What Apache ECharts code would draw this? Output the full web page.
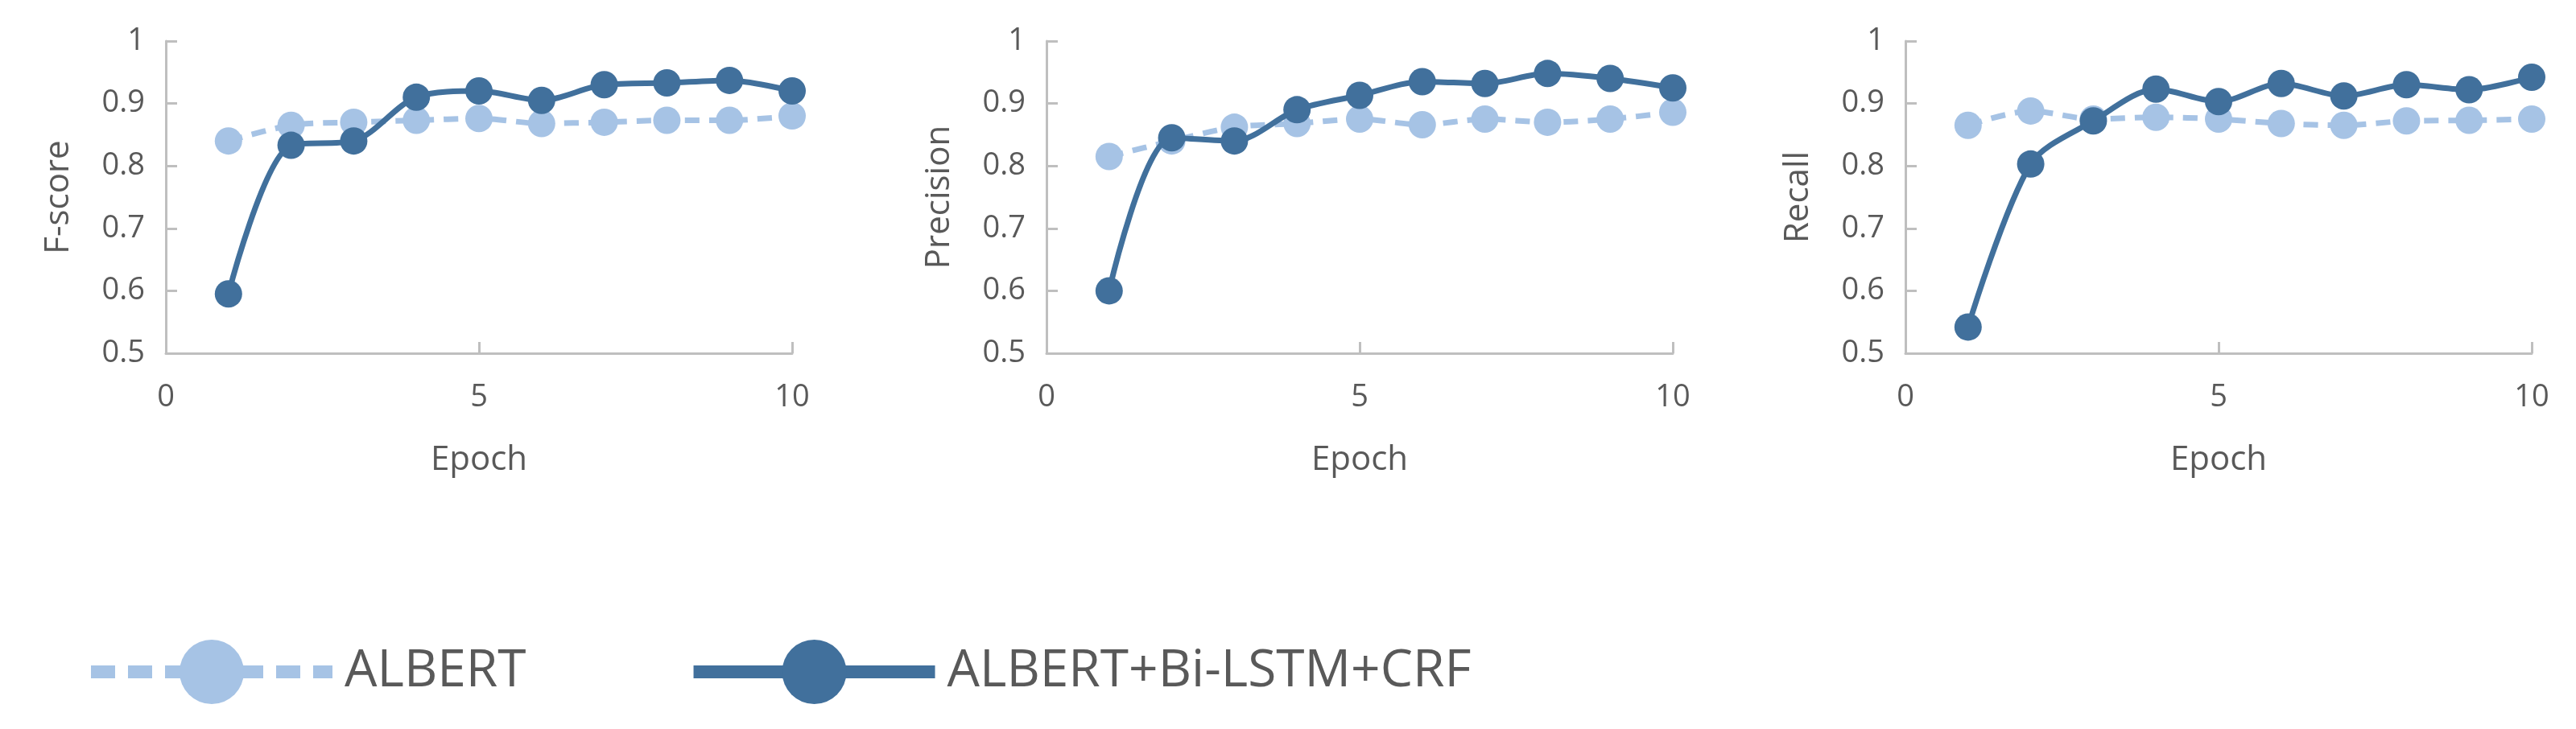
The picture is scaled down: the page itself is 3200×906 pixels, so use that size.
<!DOCTYPE html>
<html>
<head>
<meta charset="utf-8">
<script src="https://cdn.jsdelivr.net/npm/echarts@6/dist/echarts.min.js"></script>
<style>html,body{margin:0;padding:0;background:#fff}#container{width:3200px;height:906px}</style>
</head>
<body>
<div id="container"></div>
<script>
var epochs = [1, 2, 3, 4, 5, 6, 7, 8, 9, 10];
var panelNames = ['F-score', 'Precision', 'Recall'];
var albertF = [0.84, 0.865, 0.87, 0.873, 0.876, 0.868, 0.87, 0.873, 0.873, 0.88];
var crfF = [0.595, 0.833, 0.84, 0.91, 0.92, 0.905, 0.93, 0.933, 0.937, 0.92];
var albertP = [0.815, 0.84, 0.862, 0.868, 0.875, 0.866, 0.875, 0.87, 0.875, 0.886];
var crfP = [0.60, 0.845, 0.84, 0.89, 0.913, 0.935, 0.932, 0.948, 0.94, 0.925];
var albertR = [0.865, 0.888, 0.875, 0.878, 0.875, 0.868, 0.865, 0.872, 0.873, 0.875];
var crfR = [0.542, 0.803, 0.872, 0.923, 0.903, 0.932, 0.912, 0.93, 0.922, 0.942];

var albertSets = [albertF, albertP, albertR];
var crfSets = [crfF, crfP, crfR];
var lefts = [206, 1300, 2367];
var plotW = 778;

var textColor = '#595959';
var axisColor = '#bfbfbf';
var light = '#a6c3e5';
var dark = '#41709c';

function pairs(vals) {
    return epochs.map(function (e, i) { return [e, vals[i]]; });
}

var grids = [], xAxes = [], yAxes = [], series = [];
for (var i = 0; i < 3; i++) {
    grids.push({ left: lefts[i], top: 51, width: plotW, height: 388 });
    xAxes.push({
        type: 'value', gridIndex: i, min: 0, max: 10, interval: 5,
        name: 'Epoch', nameLocation: 'middle', nameGap: 112,
        nameTextStyle: { color: textColor, fontSize: 42, fontFamily: 'Open Sans' },
        axisLine: { show: true, lineStyle: { color: axisColor, width: 3 } },
        axisTick: { show: true, inside: true, length: 14, lineStyle: { color: axisColor, width: 3 } },
        axisLabel: { color: textColor, fontSize: 38, margin: 36, fontFamily: 'Open Sans' },
        splitLine: { show: false }
    });
    yAxes.push({
        type: 'value', gridIndex: i, min: 0.5, max: 1, interval: 0.1,
        name: panelNames[i], nameLocation: 'middle', nameGap: 112, nameRotate: 90,
        nameTextStyle: { color: textColor, fontSize: 42, fontFamily: 'Open Sans' },
        axisLine: { show: true, lineStyle: { color: axisColor, width: 3 } },
        axisTick: { show: true, inside: true, length: 14, lineStyle: { color: axisColor, width: 3 } },
        axisLabel: {
            color: textColor, fontSize: 38, margin: 26, fontFamily: 'Open Sans',
            formatter: function (v) { return String(Math.round(v * 10) / 10); }
        },
        splitLine: { show: false }
    });
    series.push({
        name: 'ALBERT', type: 'line', xAxisIndex: i, yAxisIndex: i,
        data: pairs(albertSets[i]), smooth: 0.3, symbol: 'circle', symbolSize: 34,
        lineStyle: { color: light, width: 7, type: [18, 12] },
        itemStyle: { color: light }, z: 2
    });
    series.push({
        name: 'ALBERT+Bi-LSTM+CRF', type: 'line', xAxisIndex: i, yAxisIndex: i,
        data: pairs(crfSets[i]), smooth: 0.3, symbol: 'circle', symbolSize: 34,
        lineStyle: { color: dark, width: 7 },
        itemStyle: { color: dark }, z: 3
    });
}

var myChart = echarts.init(document.getElementById('container'));
myChart.setOption({
    backgroundColor: '#fff',
    animation: false,
    legend: {
        data: [
            { name: 'ALBERT', lineStyle: { width: 16, type: [30, 16] } },
            { name: 'ALBERT+Bi-LSTM+CRF', lineStyle: { width: 16 } }
        ],
        left: 100, top: 790,
        itemWidth: 300, itemHeight: 100, itemGap: 200,
        textStyle: { color: textColor, fontSize: 64, fontFamily: 'Open Sans', padding: [0, 0, 0, 10] }
    },
    grid: grids,
    xAxis: xAxes,
    yAxis: yAxes,
    series: series
});
</script>
</body>
</html>
